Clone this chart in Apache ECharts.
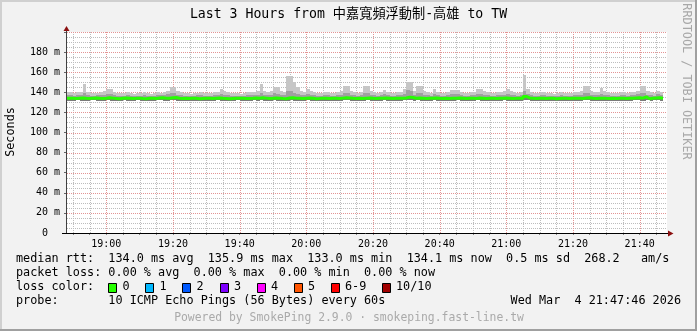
<!DOCTYPE html>
<html><head><meta charset="utf-8">
<script src="https://cdn.jsdelivr.net/npm/echarts@6/dist/echarts.min.js"></script>
<style>html,body{margin:0;padding:0;background:#f2f2f2}#c{width:697px;height:331px}</style>
</head><body><div id="c"></div>
<script>
// ---------- data (minutes since midnight; one column per minute starting 18:48) ----------
const startMinute = 1128;
const axisMin = 1128.2, axisMax = 1308.2;
const majorTicks = [1140,1160,1180,1200,1220,1240,1260,1280,1300];
const timeLabels = ['19:00','19:20','19:40','20:00','20:20','20:40','21:00','21:20','21:40'];
const minorTicks = [1130,1135,1145,1150,1155,1165,1170,1175,1185,1190,1195,1205,1210,1215,1225,1230,1235,1245,1250,1255,1265,1270,1275,1285,1290,1295,1305];
const yMajorTicks = [20,40,60,80,100,120,140,160,180,200];
const yMinorTicks = [5,10,15,25,30,35,45,50,55,65,70,75,85,90,95,105,110,115,125,130,135,145,150,155,165,170,175,185,190,195];

const pingMin = [
132.8,132.7,132.6,132.9,132.8,132.7,132.8,132.9,133.0,132.7,
132.6,132.8,132.9,132.8,132.7,132.5,132.8,132.9,132.8,132.6,
132.7,132.9,132.6,132.5,132.8,132.8,132.7,132.9,133.0,132.8,
132.7,133.0,133.1,132.8,132.6,132.7,132.5,132.8,132.7,132.5,
132.6,132.8,132.7,132.5,132.8,133.0,132.8,132.6,132.4,132.5,
132.7,132.9,132.8,132.6,132.5,132.7,132.9,132.8,133.0,132.8,
132.6,132.7,132.9,132.8,132.5,132.3,132.8,133.0,132.8,132.7,
132.5,132.8,132.9,132.7,132.4,132.6,132.8,132.7,132.5,132.8,
132.7,132.5,132.8,133.0,132.9,132.7,132.6,132.8,132.5,132.8,
133.0,132.7,132.6,132.8,132.7,132.9,132.8,132.5,132.7,132.8,
132.8,132.9,133.4,133.2,132.7,133.0,132.8,132.6,132.8,132.7,
132.9,132.7,132.5,132.8,132.6,132.8,132.7,132.9,132.8,132.5,
132.7,132.8,132.6,133.0,132.8,132.5,132.7,132.8,132.6,132.8,
132.7,132.9,132.8,132.6,132.7,132.8,132.5,133.8,133.0,132.7,
132.6,132.8,132.7,132.5,132.8,132.7,132.4,132.6,132.8,132.7,
132.5,132.7,132.8,132.8,132.6,132.9,133.0,132.7,132.5,132.8,
132.8,132.7,132.6,132.8,132.5,132.7,132.8,132.6,132.8,132.7,
132.9,133.2,132.8,132.7,133.0,132.8,132.9,133.1,132.8];

const pingUpper = [
137.5,137.0,136.8,137.2,137.5,139.0,137.0,136.8,136.5,136.9,
137.2,137.8,138.5,138.2,137.0,136.6,136.5,136.8,137.2,136.5,
136.2,136.6,136.8,137.2,136.5,136.2,136.6,137.3,137.0,137.4,
138.0,139.5,139.2,137.8,137.2,136.8,136.5,136.2,136.6,136.9,
137.2,136.8,136.5,136.6,137.2,137.6,138.5,137.8,137.0,136.5,
136.8,136.5,136.2,136.6,137.2,137.6,137.2,137.8,139.5,137.8,
137.0,137.8,139.0,138.8,137.5,137.0,141.5,141.0,139.5,138.0,
137.5,137.0,138.6,137.6,137.0,136.8,136.5,137.0,137.4,136.8,
136.5,137.0,137.6,139.2,139.0,137.6,137.0,136.8,137.2,139.0,
139.2,137.6,137.0,136.8,137.0,138.4,137.2,136.5,136.8,137.2,
137.6,138.6,142.0,141.0,137.8,139.2,139.0,137.6,137.0,136.8,
138.5,137.2,136.8,136.5,137.0,138.2,138.0,138.2,137.2,136.8,
136.5,137.0,137.5,138.8,138.6,137.6,137.0,136.8,136.5,137.0,
137.4,137.8,138.6,137.8,137.2,136.8,137.0,141.5,138.8,137.2,
136.8,136.5,137.0,137.4,136.8,136.5,136.2,136.5,137.0,136.8,
136.5,136.8,137.2,137.5,137.8,139.2,139.0,137.8,137.2,137.5,
138.6,137.8,137.2,136.8,136.5,136.8,137.2,137.5,136.8,137.2,
137.6,138.0,139.5,139.2,137.8,137.2,136.8,138.2,137.4];

const pingMax = [
140.5,140.0,139.5,140.0,140.5,148.5,140.0,139.5,139.0,139.5,
140.0,141.0,143.0,143.0,140.0,139.5,139.0,139.5,140.0,139.0,
138.5,139.0,139.5,140.0,139.0,138.5,139.0,140.0,139.5,140.0,
141.0,145.5,145.5,141.0,140.0,139.5,139.0,138.5,139.0,139.5,
140.0,139.5,139.0,139.0,140.0,140.5,143.5,141.0,140.0,139.0,
139.5,139.0,138.5,139.0,140.0,140.5,140.0,141.0,148.5,141.0,
140.0,141.0,145.0,145.0,141.0,140.0,156.5,156.0,150.5,145.0,
141.0,140.0,143.5,141.0,140.0,139.5,139.0,140.0,140.5,139.5,
139.0,140.0,141.0,146.0,146.0,141.0,140.0,139.5,140.0,146.0,
146.0,141.0,140.0,139.5,140.0,142.5,140.0,139.0,139.5,140.0,
140.5,143.0,150.0,150.0,141.0,146.0,146.0,141.0,140.0,139.5,
143.0,140.0,139.5,139.0,140.0,142.5,142.5,142.5,140.0,139.5,
139.0,140.0,140.5,143.5,143.5,141.0,140.0,139.5,139.0,140.0,
140.5,141.0,143.0,141.0,140.0,139.5,140.0,157.5,143.0,140.0,
139.5,139.0,140.0,140.5,139.5,139.0,138.5,139.0,140.0,139.5,
139.0,139.5,140.0,140.5,141.0,146.0,146.0,141.0,140.0,140.5,
144.0,141.0,140.0,139.5,139.0,139.5,140.0,140.5,139.5,140.0,
140.5,141.0,146.0,146.0,141.0,140.0,139.5,141.5,140.0];

const medianRtt = [
134.2,134.0,133.8,134.1,134.3,134.0,133.9,134.2,134.4,134.0,
133.8,134.1,134.5,134.2,133.9,133.6,134.0,134.3,134.1,133.9,
134.0,134.2,133.8,133.7,134.0,134.1,133.9,134.3,134.5,134.2,
134.0,134.6,134.8,134.1,133.9,134.0,133.8,134.2,134.0,133.7,
133.9,134.1,134.0,133.8,134.2,134.4,134.1,133.9,133.6,133.8,
134.0,134.2,134.1,133.9,133.8,134.0,134.3,134.1,134.5,134.2,
133.9,134.0,134.4,134.2,133.8,133.5,134.3,134.6,134.2,134.0,
133.8,134.1,134.3,134.0,133.7,133.9,134.2,134.0,133.8,134.1,
134.0,133.8,134.2,134.5,134.3,134.0,133.9,134.1,133.8,134.2,
134.4,134.0,133.9,134.1,134.0,134.3,134.1,133.8,134.0,134.2,
134.1,134.3,135.2,134.8,134.0,134.4,134.2,133.9,134.1,134.0,
134.3,134.0,133.8,134.1,133.9,134.2,134.0,134.3,134.1,133.8,
134.0,134.2,133.9,134.4,134.1,133.8,134.0,134.2,133.9,134.1,
134.0,134.3,134.1,133.9,134.0,134.2,133.8,135.9,134.4,134.0,
133.9,134.1,134.0,133.8,134.2,134.0,133.7,133.9,134.1,134.0,
133.8,134.0,134.2,134.1,133.9,134.3,134.5,134.0,133.8,134.1,
134.2,134.0,133.9,134.1,133.8,134.0,134.2,133.9,134.1,134.0,
134.3,134.6,134.2,135.4,133.6,134.1,134.3,134.5,134.1];

const lossLabels = ['0','1','2','3','4','5','6-9','10/10'];
const lossColors = ['#26ff00','#00b8ff','#0059ff','#7e00ff','#ff00ff','#ff5500','#ff0000','#a10000'];
const statsLines = [
  'median rtt:  134.0 ms avg  135.9 ms max  133.0 ms min  134.1 ms now  0.5 ms sd  268.2   am/s',
  'packet loss: 0.00 % avg  0.00 % max  0.00 % min  0.00 % now'
];
const probeText = 'probe:       10 ICMP Echo Pings (56 Bytes) every 60s';
const dateText = 'Wed Mar  4 21:47:46 2026';
const titleText = 'Last 3 Hours from 中嘉寬頻浮動制-高雄 to TW';
const footerText = 'Powered by SmokePing 2.9.0 · smokeping.fast-line.tw';

// ---------- build ----------
const smokeRows = pingMin.map((v, i) => [startMinute + i, v, pingUpper[i], pingMax[i], medianRtt[i]]);
const medianPts = medianRtt.map((v, i) => [startMinute + i, v]);
medianPts.push([startMinute + medianRtt.length, medianRtt[medianRtt.length - 1]]);

const MONO = "'DejaVu Sans Mono', 'Noto Sans CJK TC', monospace";
const G = {left: 67, top: 32, width: 600, height: 201};

function renderSmoke(params, api) {
  const t = api.value(0);
  const x0 = Math.round(api.coord([t, 0])[0]);
  const x1 = Math.round(api.coord([t + 1, 0])[0]);
  const yMin = Math.round(api.coord([t, api.value(1)])[1]);
  const yUp = Math.round(api.coord([t, api.value(2)])[1]);
  const yMax = Math.round(api.coord([t, api.value(3)])[1]);
  const yMed = Math.round(api.coord([t, api.value(4)])[1]);
  const w = x1 - x0;
  return {type: 'group', children: [
    {type: 'rect', shape: {x: x0, y: yMax, width: w, height: yMin - yMax}, style: {fill: '#c6c6c6'}},
    {type: 'rect', shape: {x: x0, y: yUp, width: w, height: yMin - yUp}, style: {fill: '#a0a0a0'}},
    {type: 'rect', shape: {x: x0, y: yMed, width: w, height: yMin - yMed + 1}, style: {fill: '#7a7a7a'}}
  ]};
}
function vLines(color) {
  return function (params, api) {
    const cs = params.coordSys;
    const x = Math.round(api.coord([api.value(0), 0])[0]) + 0.5;
    return {type: 'line', shape: {x1: x, y1: cs.y + cs.height, x2: x, y2: cs.y},
      style: {stroke: color, lineWidth: 1, lineDash: [1, 1]}};
  };
}
function hLines(color) {
  return function (params, api) {
    const cs = params.coordSys;
    const y = Math.round(api.coord([axisMin, api.value(1)])[1]) + 0.5;
    return {type: 'line', shape: {x1: cs.x, y1: y, x2: cs.x + cs.width, y2: y},
      style: {stroke: color, lineWidth: 1, lineDash: [1, 1]}};
  };
}
const MINOR_C = '#bdbdbd', MAJOR_C = '#e39494';

const graphics = [];
graphics.push({type: 'rect', z: 100, shape: {x: 0, y: 0, width: 697, height: 2}, style: {fill: '#d0d0d0'}});
graphics.push({type: 'rect', z: 100, shape: {x: 0, y: 0, width: 2, height: 331}, style: {fill: '#d0d0d0'}});
graphics.push({type: 'rect', z: 100, shape: {x: 0, y: 329, width: 697, height: 2}, style: {fill: '#a0a0a0'}});
graphics.push({type: 'rect', z: 100, shape: {x: 695, y: 0, width: 2, height: 331}, style: {fill: '#a0a0a0'}});
graphics.push({type: 'line', z: 100, shape: {x1: 66.5, y1: 233.5, x2: 66.5, y2: 30}, style: {stroke: '#404040', lineWidth: 1}});
graphics.push({type: 'line', z: 100, shape: {x1: 62, y1: 233.5, x2: 669, y2: 233.5}, style: {stroke: '#000', lineWidth: 1}});
graphics.push({type: 'polygon', z: 101, shape: {points: [[63.5, 31], [69.5, 31], [66.5, 26]]}, style: {fill: '#8b1010'}});
graphics.push({type: 'polygon', z: 101, shape: {points: [[668, 230.5], [668, 236.5], [673.5, 233.5]]}, style: {fill: '#8b1010'}});
graphics.push({type: 'text', z: 100, style: {text: titleText, x: 348.5, y: 15, font: '13.2px ' + MONO, fill: '#000', textAlign: 'center', textVerticalAlign: 'middle'}});
graphics.push({type: 'text', z: 100, x: 10.5, y: 132, rotation: Math.PI / 2, style: {text: 'Seconds', x: 0, y: 0, font: '11.8px ' + MONO, fill: '#000', textAlign: 'center', textVerticalAlign: 'middle'}});
graphics.push({type: 'text', z: 100, x: 686.5, y: 81.5, rotation: -Math.PI / 2, style: {text: 'RRDTOOL / TOBI OETIKER', x: 0, y: 0, font: '11.8px ' + MONO, fill: '#a8a8a8', textAlign: 'center', textVerticalAlign: 'middle'}});
const rowY = [259.3, 273.3, 287.3, 301.3];
statsLines.forEach((s, i) => graphics.push({type: 'text', z: 100, style: {text: s, x: 16, y: rowY[i], font: '11.8px ' + MONO, fill: '#000', textVerticalAlign: 'middle'}}));
graphics.push({type: 'text', z: 100, style: {text: 'loss color:', x: 16, y: rowY[2], font: '11.8px ' + MONO, fill: '#000', textVerticalAlign: 'middle'}});
const swatchX = [108, 145, 182, 219.5, 256.5, 293.5, 330.5, 381.5];
lossLabels.forEach((lab, i) => {
  graphics.push({type: 'rect', z: 100, shape: {x: Math.round(swatchX[i]) + 0.5, y: Math.round(rowY[2] - 4.5) + 0.5, width: 8, height: 9}, style: {fill: lossColors[i], stroke: '#000', lineWidth: 1}});
  graphics.push({type: 'text', z: 100, style: {text: lab, x: swatchX[i] + 14.5, y: rowY[2], font: '11.8px ' + MONO, fill: '#000', textVerticalAlign: 'middle'}});
});
graphics.push({type: 'text', z: 100, style: {text: probeText, x: 16, y: rowY[3], font: '11.8px ' + MONO, fill: '#000', textVerticalAlign: 'middle'}});
graphics.push({type: 'text', z: 100, style: {text: dateText, x: 681, y: rowY[3], font: '11.8px ' + MONO, fill: '#000', textAlign: 'right', textVerticalAlign: 'middle'}});
graphics.push({type: 'text', z: 100, style: {text: footerText, x: 349, y: 317.7, font: '11.4px ' + MONO, fill: '#aaaaaa', textAlign: 'center', textVerticalAlign: 'middle'}});

const chart = echarts.init(document.getElementById('c'), null, {renderer: 'canvas'});
chart.setOption({
  backgroundColor: '#f2f2f2',
  animation: false,
  grid: Object.assign({show: true, backgroundColor: '#ffffff', borderWidth: 0}, G),
  xAxis: {type: 'value', min: axisMin, max: axisMax,
    axisLine: {show: false},
    axisTick: {show: true, customValues: majorTicks.concat(minorTicks), length: 2, lineStyle: {color: '#888'}},
    axisLabel: {show: true, customValues: majorTicks, margin: 6, color: '#000', fontFamily: MONO, fontSize: 10,
      formatter: v => timeLabels[majorTicks.indexOf(v)] || ''},
    splitLine: {show: false}},
  yAxis: {type: 'value', min: 0, max: 200, interval: 20,
    axisLine: {show: false},
    axisTick: {show: true, length: 3, lineStyle: {color: '#666'}},
    axisLabel: {margin: 7, color: '#000', fontFamily: MONO, fontSize: 10,
      formatter: v => v === 0 ? '0  ' : (v >= 200 ? '' : v + ' m')},
    splitLine: {show: false}
  },
  series: [
    {type: 'custom', renderItem: vLines(MINOR_C), data: minorTicks.map(v => [v, 0]), encode: {x: 0, y: 1}, silent: true, z: 1},
    {type: 'custom', renderItem: hLines(MINOR_C), data: yMinorTicks.map(v => [axisMin, v]), encode: {x: 0, y: 1}, silent: true, z: 1},
    {type: 'custom', renderItem: vLines(MAJOR_C), data: majorTicks.map(v => [v, 0]), encode: {x: 0, y: 1}, silent: true, z: 1},
    {type: 'custom', renderItem: hLines(MAJOR_C), data: yMajorTicks.map(v => [axisMin, v]), encode: {x: 0, y: 1}, silent: true, z: 1},
    {type: 'custom', clip: true, renderItem: renderSmoke,
     encode: {x: 0, y: [1, 2, 3, 4]}, data: smokeRows, z: 2, silent: true},
    {type: 'line', step: 'end', data: medianPts, showSymbol: false, clip: true,
     lineStyle: {color: '#26ff00', width: 3}, z: 3, silent: true}
  ],
  graphic: graphics
});
</script></body></html>
